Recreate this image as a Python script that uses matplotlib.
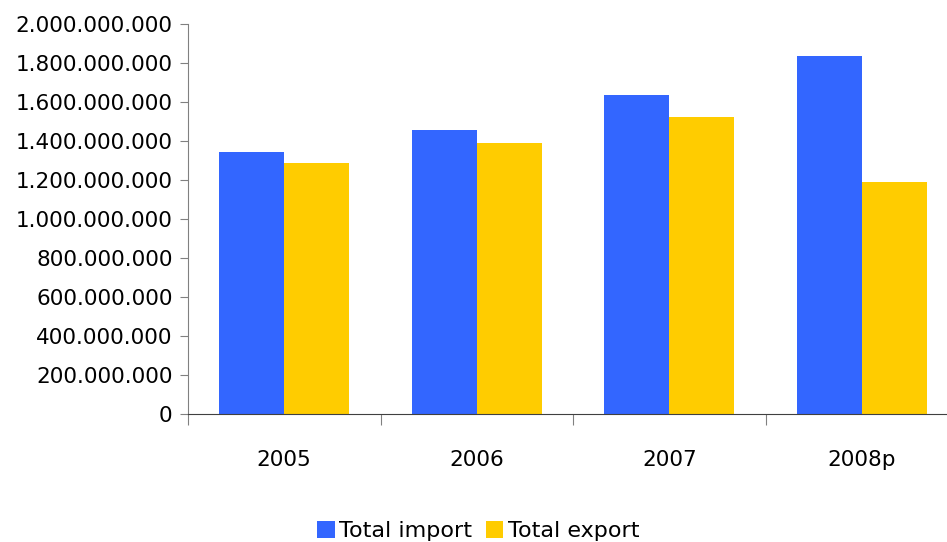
import numpy as np
import matplotlib.pyplot as plt
from matplotlib.ticker import FuncFormatter, FixedLocator

years = ['2005', '2006', '2007', '2008p']
total_import = [1344000000, 1456000000, 1636000000, 1836000000]
total_export = [1287000000, 1390000000, 1523000000, 1190000000]

plt.rcParams['font.family'] = ['DejaVu Sans']

fig = plt.figure(figsize=(9.47, 5.42), dpi=100)
W, H = 947, 542
ax = fig.add_axes([188 / W, (H - 414) / H, (958 - 188) / W, (414 - 24) / H])

x = np.arange(len(years))
bw = 0.338
ax.bar(x - bw / 2, total_import, bw, color='#3366FF', label='Total import')
ax.bar(x + bw / 2, total_export, bw, color='#FFCC00', label='Total export')

ax.set_xlim(-0.5, len(years) - 0.5)
ax.set_ylim(0, 2000000000)
ax.set_yticks(np.arange(0, 2000000001, 200000000))
ax.yaxis.set_major_formatter(FuncFormatter(lambda v, p: f'{int(v):,}'.replace(',', '.')))

# category boundaries as major ticks, labels on minor ticks
ax.xaxis.set_major_locator(FixedLocator(np.arange(-0.5, len(years), 1.0)))
ax.xaxis.set_major_formatter(FuncFormatter(lambda v, p: ''))
ax.set_xticks(x, minor=True)
ax.set_xticklabels(years, minor=True)
ax.tick_params(axis='x', which='minor', length=0, pad=26, labelsize=15.5)
ax.tick_params(axis='x', which='major', length=8, color='#808080')
ax.tick_params(axis='y', length=6, color='#808080', labelsize=15.5, pad=5)

for s in ['top', 'right']:
    ax.spines[s].set_visible(False)
ax.spines['left'].set_color('#808080')
ax.spines['bottom'].set_color('#404040')

fig.legend(loc='lower center', bbox_to_anchor=(0.505, -0.035), ncol=2, frameon=False,
           fontsize=16, handlelength=0.8, handleheight=0.8, handletextpad=0.2,
           columnspacing=0.6)

fig.savefig('out.png', dpi=100)
